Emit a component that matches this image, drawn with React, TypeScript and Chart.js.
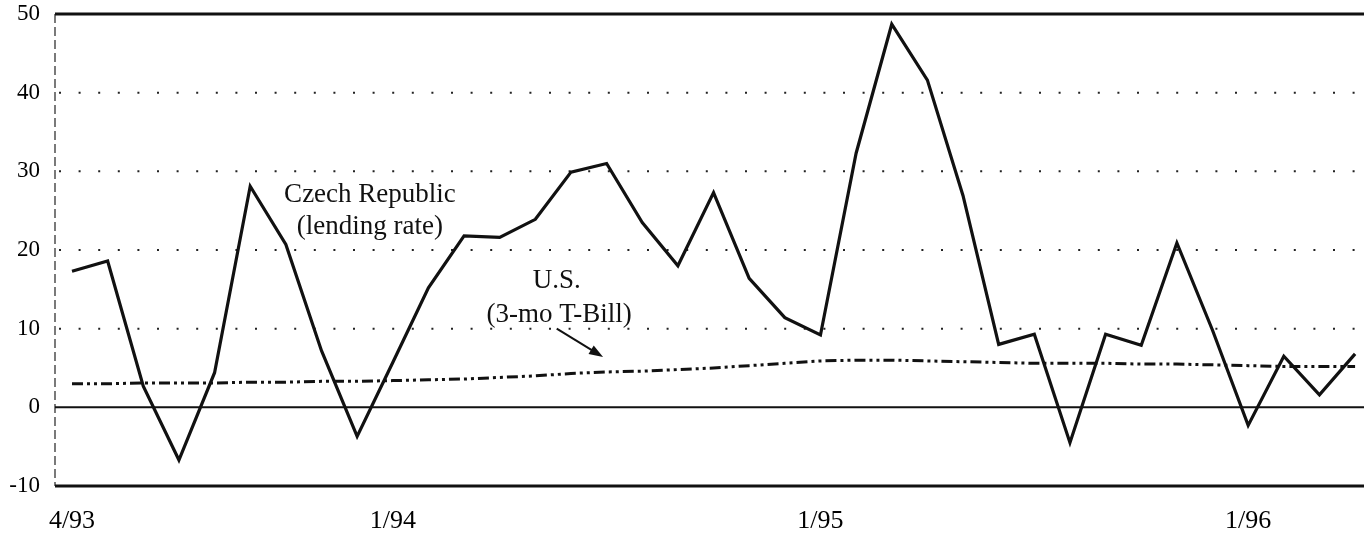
import React, { useEffect, useRef } from "react";
import { Chart, registerables } from "chart.js";

Chart.register(...registerables);

// Monthly observations, 4/93 .. 4/96
const MONTHS = [
  "4/93", "5/93", "6/93", "7/93", "8/93", "9/93", "10/93", "11/93", "12/93",
  "1/94", "2/94", "3/94", "4/94", "5/94", "6/94", "7/94", "8/94", "9/94", "10/94", "11/94", "12/94",
  "1/95", "2/95", "3/95", "4/95", "5/95", "6/95", "7/95", "8/95", "9/95", "10/95", "11/95", "12/95",
  "1/96", "2/96", "3/96", "4/96",
];

// Czech Republic lending rate (real, %)
const CZECH = [
  17.3, 18.6, 2.7, -6.7, 4.4, 28.1, 20.7, 7.2, -3.7,
  5.7, 15.2, 21.8, 21.6, 23.9, 29.9, 31.0, 23.5, 18.0, 27.3, 16.4, 11.4,
  9.2, 32.3, 48.7, 41.6, 26.9, 8.0, 9.3, -4.5, 9.3, 7.9, 20.9, 9.8,
  -2.3, 6.5, 1.6, 6.8,
];

// U.S. 3-month T-Bill (%)
const US_TBILL = [
  3.0, 3.0, 3.1, 3.1, 3.1, 3.2, 3.2, 3.3, 3.3,
  3.4, 3.5, 3.6, 3.8, 4.0, 4.3, 4.5, 4.6, 4.8, 5.0, 5.3, 5.6,
  5.9, 6.0, 6.0, 5.9, 5.8, 5.7, 5.6, 5.6, 5.6, 5.5, 5.5, 5.4,
  5.3, 5.2, 5.2, 5.2,
];

const X_TICK_INDICES = [0, 9, 21, 33];
const Y_MIN = -10;
const Y_MAX = 50;
const Y_STEP = 10;
const DOTTED_GRID = [10, 20, 30, 40];

const SERIF = '"Liberation Serif", "Times New Roman", serif';

const framePlugin = {
  id: "frame",
  beforeDatasetsDraw(chart: any) {
    const { ctx, chartArea, scales } = chart;
    const { left, right, top, bottom } = chartArea;
    const y = scales.y;
    ctx.save();
    // dotted grid lines
    ctx.strokeStyle = "#222";
    ctx.lineWidth = 2;
    ctx.setLineDash([2, 17.6]);
    for (const v of DOTTED_GRID) {
      const py = y.getPixelForValue(v);
      ctx.beginPath();
      ctx.moveTo(left + 4, py);
      ctx.lineTo(right, py);
      ctx.stroke();
    }
    // left axis (faint dashed)
    ctx.strokeStyle = "#333";
    ctx.lineWidth = 1.3;
    ctx.setLineDash([9, 4]);
    ctx.beginPath();
    ctx.moveTo(left, top);
    ctx.lineTo(left, bottom);
    ctx.stroke();
    ctx.setLineDash([]);
    // zero line
    ctx.strokeStyle = "#111";
    ctx.lineWidth = 2;
    const p0 = y.getPixelForValue(0);
    ctx.beginPath();
    ctx.moveTo(left, p0);
    ctx.lineTo(right, p0);
    ctx.stroke();
    // top & bottom frame lines
    ctx.lineWidth = 3;
    for (const v of [Y_MIN, Y_MAX]) {
      const py = y.getPixelForValue(v);
      ctx.beginPath();
      ctx.moveTo(left, py);
      ctx.lineTo(right, py);
      ctx.stroke();
    }
    ctx.restore();
  },
  afterDatasetsDraw(chart: any) {
    const { ctx, scales } = chart;
    const x = scales.x;
    const y = scales.y;
    ctx.save();
    ctx.fillStyle = "#111";
    ctx.strokeStyle = "#111";
    ctx.textAlign = "center";
    ctx.textBaseline = "alphabetic";
    ctx.font = `27px ${SERIF}`;
    ctx.fillText("Czech Republic", x.getPixelForValue(8.36), y.getPixelForValue(26.1));
    ctx.fillText("(lending rate)", x.getPixelForValue(8.36), y.getPixelForValue(22.0));
    ctx.fillText("U.S.", x.getPixelForValue(13.6), y.getPixelForValue(15.2));
    ctx.fillText("(3-mo T-Bill)", x.getPixelForValue(13.67), y.getPixelForValue(10.9));
    // arrow
    const x1 = x.getPixelForValue(13.6);
    const y1 = y.getPixelForValue(10.0);
    const x2 = x.getPixelForValue(14.9);
    const y2 = y.getPixelForValue(6.4);
    const ang = Math.atan2(y2 - y1, x2 - x1);
    ctx.lineWidth = 2;
    ctx.beginPath();
    ctx.moveTo(x1, y1);
    ctx.lineTo(x2 - 6 * Math.cos(ang), y2 - 6 * Math.sin(ang));
    ctx.stroke();
    const hl = 14;
    const hw = 5;
    ctx.beginPath();
    ctx.moveTo(x2, y2);
    ctx.lineTo(x2 - hl * Math.cos(ang) + hw * Math.sin(ang), y2 - hl * Math.sin(ang) - hw * Math.cos(ang));
    ctx.lineTo(x2 - hl * Math.cos(ang) - hw * Math.sin(ang), y2 - hl * Math.sin(ang) + hw * Math.cos(ang));
    ctx.closePath();
    ctx.fill();
    ctx.restore();
  },
};

export default function App() {
  const canvasRef = useRef<HTMLCanvasElement | null>(null);

  useEffect(() => {
    const canvas = canvasRef.current;
    if (!canvas) return;
    const czechData = CZECH.map((v, i) => ({ x: i, y: v }));
    const usData = US_TBILL.map((v, i) => ({ x: i, y: v }));
    const chart = new Chart(canvas, {
      type: "line",
      data: {
        datasets: [
          {
            label: "U.S. (3-mo T-Bill)",
            data: usData,
            borderColor: "#111",
            borderWidth: 3,
            borderDash: [11, 4, 3, 4, 3, 4],
            pointRadius: 0,
            tension: 0,
            fill: false,
          },
          {
            label: "Czech Republic (lending rate)",
            data: czechData,
            borderColor: "#111",
            borderWidth: 3.2,
            borderJoinStyle: "miter",
            pointRadius: 0,
            tension: 0,
            fill: false,
          },
        ],
      },
      options: {
        responsive: false,
        maintainAspectRatio: false,
        animation: false,
        devicePixelRatio: 1,
        layout: { padding: { top: 14, right: 0, bottom: 0, left: 0 } },
        plugins: {
          legend: { display: false },
          tooltip: { enabled: false },
        },
        scales: {
          x: {
            type: "linear",
            min: -0.477,
            max: 36.25,
            grid: { display: false, drawTicks: false },
            border: { display: false },
            afterBuildTicks: (scale: any) => {
              scale.ticks = X_TICK_INDICES.map((v) => ({ value: v }));
            },
            afterFit: (scale: any) => {
              scale.height = 50;
              scale.paddingLeft = 0;
              scale.paddingRight = 0;
            },
            ticks: {
              autoSkip: false,
              maxRotation: 0,
              minRotation: 0,
              padding: 20,
              color: "#000",
              font: { family: SERIF, size: 26 },
              callback: (v: any) => MONTHS[Math.round(Number(v))] ?? "",
            },
          },
          y: {
            min: Y_MIN,
            max: Y_MAX,
            grid: { display: false, drawTicks: false },
            border: { display: false },
            afterFit: (scale: any) => {
              scale.width = 55;
              scale.paddingTop = 0;
              scale.paddingBottom = 0;
            },
            ticks: {
              stepSize: Y_STEP,
              padding: 15,
              color: "#000",
              font: { family: SERIF, size: 23 },
            },
          },
        },
      },
      plugins: [framePlugin],
    } as any);
    return () => chart.destroy();
  }, []);

  return (
    <div style={{ position: "fixed", left: 0, top: 0, width: 1364, height: 536, background: "#fff" }}>
      <canvas ref={canvasRef} width={1364} height={536} style={{ display: "block" }} />
    </div>
  );
}
